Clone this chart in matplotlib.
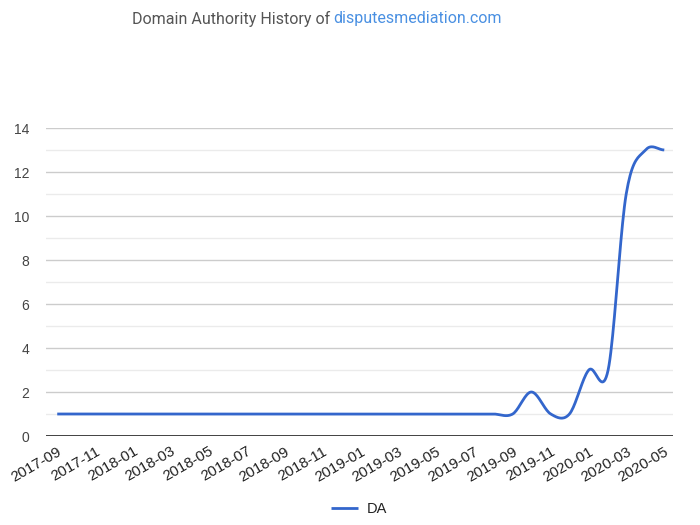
import matplotlib
matplotlib.use('Agg')
import matplotlib.pyplot as plt
import matplotlib.dates as mdates
import numpy as np
import pandas as pd

# Monthly DA readings
months = pd.date_range('2017-09-01', '2020-05-01', freq='MS')
da_values = [1] * 25 + [2, 1, 1, 3, 3, 11, 13, 13]  # 2017-09 .. 2020-05
tick_dates = pd.date_range('2017-09-01', '2020-05-01', freq='2MS')
tick_labels = [d.strftime('%Y-%m') for d in tick_dates]
domain = 'disputesmediation.com'


def smooth_curve(x, y, steps=20):
    """Catmull-Rom style cubic through the points (like a 'function' curve)."""
    x = np.asarray(x, dtype=float)
    y = np.asarray(y, dtype=float)
    n = len(x)
    slopes = np.zeros(n)
    for i in range(n):
        if i == 0 or i == n - 1:
            slopes[i] = 0.0
        else:
            slopes[i] = (y[i + 1] - y[i - 1]) / (x[i + 1] - x[i - 1])
    xs, ys = [], []
    for i in range(n - 1):
        h = x[i + 1] - x[i]
        t = np.linspace(0, 1, steps, endpoint=False)
        h00 = 2 * t**3 - 3 * t**2 + 1
        h10 = t**3 - 2 * t**2 + t
        h01 = -2 * t**3 + 3 * t**2
        h11 = t**3 - t**2
        xs.append(x[i] + t * h)
        ys.append(h00 * y[i] + h10 * h * slopes[i] + h01 * y[i + 1] + h11 * h * slopes[i + 1])
    xs.append([x[-1]])
    ys.append([y[-1]])
    return np.concatenate(xs), np.concatenate(ys)


xnum = mdates.date2num(months.to_pydatetime())
sx, sy = smooth_curve(xnum, da_values)

fig = plt.figure(figsize=(7, 5.25), dpi=100)
ax = fig.add_axes([46 / 700, 1 - 436 / 525, 627 / 700, 308 / 525])

ax.plot(sx, sy, color='#3366cc', linewidth=2, label='DA', solid_capstyle='butt')

# grid lines
for v in range(1, 15):
    ax.axhline(v, color='#cccccc' if v % 2 == 0 else '#ebebeb', linewidth=1, zorder=0)
ax.axhline(0, color='#333333', linewidth=1.3, zorder=1)

ax.set_ylim(0, 14)
ax.set_yticks(range(0, 15, 2))
ax.set_xlim(xnum[0] - 18, xnum[-1] + 14)
ax.set_xticks(mdates.date2num(tick_dates.to_pydatetime()))
ax.set_xticklabels(tick_labels, rotation=30, ha='right', rotation_mode='anchor',
                   fontsize=10.8, color='#222222', family='Liberation Sans')
for lab in ax.get_yticklabels():
    lab.set_family('Liberation Sans')
ax.tick_params(axis='y', length=0, pad=12, labelsize=10, labelcolor='#444444')
ax.tick_params(axis='x', length=0, pad=6)
for s in ax.spines.values():
    s.set_visible(False)

# title in two colours
fig.text(132 / 700, 1 - 19 / 525, 'Domain Authority History of ', ha='left', va='center',
         fontsize=11.5, color='#555555', family='Roboto')
fig.text(333 / 700, 1 - 19 / 525, domain, ha='left', va='center',
         fontsize=11.5, color='#4a90e2', family='Roboto')

fig.legend(loc='center', bbox_to_anchor=(359 / 700, 1 - 509 / 525), frameon=False,
           handlelength=1.9, handletextpad=0.6,
           prop={'family': 'Liberation Sans', 'size': 10.5}, labelcolor='#222222')

fig.savefig('out.png', dpi=100, facecolor='white')
